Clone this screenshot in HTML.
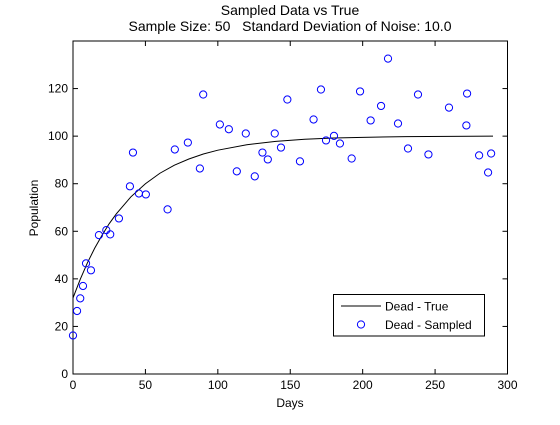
<!DOCTYPE html>
<html><head><meta charset="utf-8"><style>
body{margin:0;background:#fff;}
svg text{font-family:"Liberation Sans",sans-serif;fill:#000;white-space:pre;}
</style></head><body>
<svg id="chart" width="560" height="420" xmlns="http://www.w3.org/2000/svg">
<rect x="0" y="0" width="560" height="420" fill="#fff"/>
<text x="290" y="15" font-size="14" text-anchor="middle">Sampled Data vs True</text>
<text x="290" y="31" font-size="14" text-anchor="middle">Sample Size: 50&#160;&#160;&#160;Standard Deviation of Noise: 10.0</text>
<g id="axes"></g>
<g id="marks"></g>
<text x="290" y="407" font-size="12" text-anchor="middle">Days</text>
<text transform="translate(38,208) rotate(-90)" font-size="12" text-anchor="middle">Population</text>
<g>
<rect x="333.5" y="294.5" width="151" height="41.5" fill="#fff" stroke="#000" stroke-width="1"/>
<line x1="341" y1="306" x2="381" y2="306" stroke="#000" stroke-width="1"/>
<text x="385" y="310.5" font-size="12">Dead - True</text>
<circle cx="361" cy="324.5" r="3.6" fill="none" stroke="#00f" stroke-width="1"/>
<text x="385" y="329" font-size="12">Dead - Sampled</text>
</g>
</svg>
<script>
const sampleDays=[0,2.8,5,6.9,9,12.4,17.9,23,25.7,31.7,39.3,41.4,45.5,50.3,65.3,70.3,79.3,87.6,89.9,101.4,107.6,113.1,119.3,125.5,130.8,134.5,139.3,143.6,148,156.7,166.1,171.2,174.7,180.2,184.3,192.4,198.2,205.5,212.7,217.5,224.4,231.3,238.2,245.4,259.6,271.6,272.1,280.4,286.6,288.7];
const sampleValues=[16.2,26.5,31.8,37,46.5,43.6,58.4,60.5,58.7,65.4,78.9,93.1,75.9,75.5,69.2,94.4,97.3,86.4,117.5,104.9,102.9,85.2,101.1,83.1,93.1,90.2,101.1,95.2,115.4,89.4,107,119.6,98.2,100.1,96.9,90.6,118.8,106.6,112.7,132.6,105.3,94.8,117.5,92.3,112,104.5,117.9,91.9,84.7,92.7];
const trueDays=[0,5,10,15,20,25,30,40,50,60,70,80,90,100,120,140,160,180,200,230,260,290];
const trueValues=[32,39.8,46.8,52.9,58.3,63.2,67.4,74.5,80,84.4,87.8,90.4,92.5,94.1,96.4,97.8,98.7,99.2,99.5,99.8,99.9,100];
const xTicks=[0,50,100,150,200,250,300];
const yTicks=[0,20,40,60,80,100,120];
const L=73,R=507.5,T=41,B=374;
function sx(d){return L+(d-0)/(300-0)*(R-L);}
function sy(v){return B-(v-0)/(140-0)*(B-T);}
const NS="http://www.w3.org/2000/svg";
const axes=document.getElementById('axes'),marks=document.getElementById('marks');
function mk(tag,attrs,parent){const e=document.createElementNS(NS,tag);for(const k in attrs)e.setAttribute(k,attrs[k]);parent.appendChild(e);return e;}
const box=mk('rect',{x:L,y:T,width:R-L,height:B-T,fill:'none',stroke:'#000','stroke-width':1},axes);


xTicks.forEach(t=>{const x=sx(t);
mk('line',{x1:x,y1:B,x2:x,y2:B-5,stroke:'#000'},axes);
mk('line',{x1:x,y1:T,x2:x,y2:T+5,stroke:'#000'},axes);
const tx=mk('text',{x:x,y:B+15,'font-size':12,'text-anchor':'middle'},axes);tx.textContent=t;

});
yTicks.forEach(t=>{const y=sy(t);
mk('line',{x1:L,y1:y,x2:L+5,y2:y,stroke:'#000'},axes);
mk('line',{x1:R,y1:y,x2:R-5,y2:y,stroke:'#000'},axes);
const tx=mk('text',{x:L-5,y:y+4,'font-size':12,'text-anchor':'end'},axes);tx.textContent=t;

});
let d='';trueDays.forEach((t,i)=>{d+=(i?'L':'M')+sx(t).toFixed(2)+' '+sy(trueValues[i]).toFixed(2);});
const line=mk('path',{d:d,fill:'none',stroke:'#000','stroke-width':1},marks);


sampleDays.forEach((t,i)=>{const c=mk('circle',{cx:sx(t),cy:sy(sampleValues[i]),r:3.6,fill:'none',stroke:'#00f','stroke-width':1},marks);

});
</script>
</body></html>
